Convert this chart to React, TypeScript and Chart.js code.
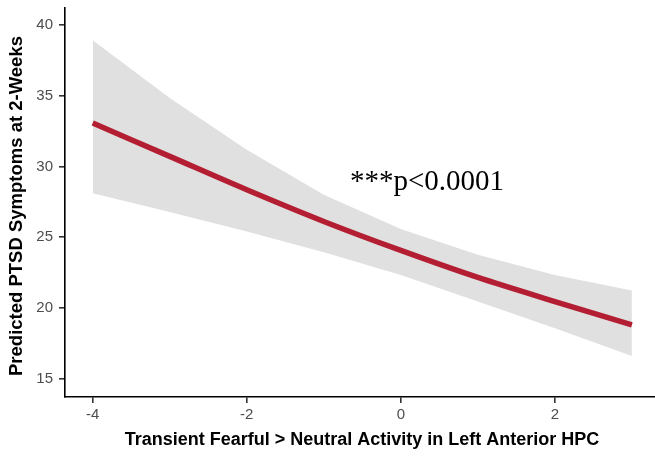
import React, { useEffect, useRef } from "react";
import { Chart, registerables } from "chart.js";

Chart.register(...registerables);

const X_VALUES = [-4, -3, -2, -1, 0, 1, 2, 3];
const FIT_VALUES = [33.07, 30.71, 28.35, 26.11, 24.06, 22.15, 20.45, 18.8];
const UPPER_VALUES = [38.92, 34.83, 31.18, 28.0, 25.57, 23.75, 22.33, 21.23];
const LOWER_VALUES = [28.11, 26.77, 25.4, 23.94, 22.33, 20.45, 18.56, 16.6];
const X_TICKS = [-4, -2, 0, 2];
const Y_TICKS = [15, 20, 25, 30, 35, 40];
const X_TITLE = "Transient Fearful > Neutral Activity in Left Anterior HPC";
const Y_TITLE = "Predicted PTSD Symptoms at 2-Weeks";
const ANNOTATION = "***p<0.0001";
const ANNOTATION_AT = { x: -0.66, y: 28.3 };

const toPoints = (ys: number[]) => X_VALUES.map((x, i) => ({ x, y: ys[i] }));

const customPlugin = {
  id: "customText",
  afterDatasetsDraw(chart: any) {
    const { ctx, scales } = chart;
    ctx.save();
    ctx.fillStyle = "#000";
    ctx.font = '29px "Liberation Serif"';
    ctx.textAlign = "left";
    ctx.textBaseline = "alphabetic";
    ctx.fillText(
      ANNOTATION,
      scales.x.getPixelForValue(ANNOTATION_AT.x),
      scales.y.getPixelForValue(ANNOTATION_AT.y)
    );
    ctx.restore();
  },
  afterDraw(chart: any) {
    const { ctx, chartArea } = chart;
    ctx.save();
    ctx.fillStyle = "#000";
    ctx.textAlign = "center";
    ctx.textBaseline = "middle";
    ctx.font = 'bold 18px "Liberation Sans"';
    ctx.fillText(X_TITLE, (chartArea.left + chartArea.right) / 2 + 2, 440);
    ctx.font = 'bold 18.5px "Liberation Sans"';
    ctx.translate(17, 206);
    ctx.rotate(-Math.PI / 2);
    ctx.fillText(Y_TITLE, 0, 0);
    ctx.restore();
  },
};

export default function App() {
  const ref = useRef<HTMLCanvasElement>(null);
  useEffect(() => {
    document.body.style.margin = "0";
    const chart = new Chart(ref.current!, {
      type: "line",
      data: {
        datasets: [
          {
            data: toPoints(UPPER_VALUES),
            borderWidth: 0,
            pointRadius: 0,
            backgroundColor: "#e0e0e0",
            fill: "+1",
            tension: 0,
            order: 2,
          },
          {
            data: toPoints(LOWER_VALUES),
            borderWidth: 0,
            pointRadius: 0,
            fill: false,
            tension: 0,
            order: 3,
          },
          {
            data: toPoints(FIT_VALUES),
            borderColor: "#b41e32",
            borderWidth: 5.5,
            pointRadius: 0,
            fill: false,
            cubicInterpolationMode: "monotone",
            borderCapStyle: "butt",
            order: 0,
          },
        ],
      },
      options: {
        responsive: false,
        animation: false,
        layout: { padding: { top: 8, left: 0, right: 0, bottom: 0 } },
        plugins: { legend: { display: false }, tooltip: { enabled: false } },
        scales: {
          x: {
            type: "linear",
            min: -4.36,
            max: 3.3,
            afterBuildTicks: (s: any) => {
              s.ticks = X_TICKS.map((v) => ({ value: v }));
            },
            afterFit: (s: any) => {
              s.height = 60;
              s.paddingLeft = 0;
              s.paddingRight = 0;
            },
            border: { display: true, color: "#000", width: 1.6 },
            grid: { drawOnChartArea: false, drawTicks: true, tickLength: 6, tickColor: "#333", lineWidth: 1.6 },
            ticks: { color: "#4d4d4d", font: { family: "Liberation Sans", size: 15 }, padding: 3, maxRotation: 0 },
          },
          y: {
            type: "linear",
            min: 13.7,
            max: 41.2,
            afterBuildTicks: (s: any) => {
              s.ticks = Y_TICKS.map((v) => ({ value: v }));
            },
            afterFit: (s: any) => {
              s.width = 65;
              s.paddingTop = 0;
              s.paddingBottom = 0;
            },
            border: { display: true, color: "#000", width: 1.6 },
            grid: { drawOnChartArea: false, drawTicks: true, tickLength: 6, tickColor: "#333", lineWidth: 1.6 },
            ticks: { color: "#4d4d4d", font: { family: "Liberation Sans", size: 15 }, padding: 6 },
          },
        },
      },
      plugins: [customPlugin],
    } as any);
    return () => chart.destroy();
  }, []);
  return (
    <div style={{ width: 655, height: 457 }}>
      <canvas ref={ref} width={655} height={457} style={{ display: "block" }} />
    </div>
  );
}
